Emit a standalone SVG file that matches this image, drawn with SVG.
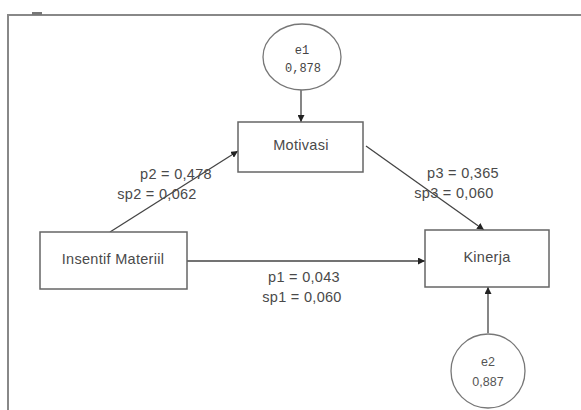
<svg xmlns="http://www.w3.org/2000/svg" width="581" height="410" viewBox="0 0 581 410">
<defs>
<style>
.box{fill:#fff;stroke:#666;stroke-width:1.5}
.ell{fill:#fff;stroke:#777;stroke-width:1.3}
.lbl{font-family:"Liberation Sans",Arial,sans-serif;font-size:14.5px;fill:#4a4a4a;text-anchor:middle;letter-spacing:0.3px}
.mono{font-family:"Liberation Mono","Courier New",monospace;font-size:12px;fill:#444;text-anchor:middle}
.small{font-family:"Liberation Sans",Arial,sans-serif;font-size:12.5px;fill:#555;text-anchor:middle}
.edge{stroke:#444;stroke-width:1.3;fill:none;marker-end:url(#ah)}
.frame{stroke:#888;stroke-width:2;fill:none}
</style>
<marker id="ah" viewBox="0 0 10 10" refX="10" refY="5" markerWidth="7" markerHeight="7" markerUnits="userSpaceOnUse" orient="auto">
<path d="M0,0 L10,5 L0,10 z" fill="#222"/>
</marker>
</defs>
<rect width="581" height="410" fill="#fff"/>
<g id="frame">
<path class="frame" d="M581,15 L8,15 L8,410"/>
<rect x="32" y="12" width="10" height="3" fill="#777"/>
</g>
<g id="connectors">
<line class="edge" x1="301" y1="90" x2="301" y2="122"/>
<line class="edge" x1="110" y1="232" x2="238" y2="151"/>
<line class="edge" x1="366" y1="146" x2="484" y2="230"/>
<line class="edge" x1="187" y1="261" x2="425" y2="261"/>
<line class="edge" x1="488" y1="333" x2="488" y2="287"/>
<text class="lbl" x="176" y="179">p2 = 0,478</text>
<text class="lbl" x="157" y="199">sp2 = 0,062</text>
<text class="lbl" x="463" y="178">p3 = 0,365</text>
<text class="lbl" x="454" y="198">sp3 = 0,060</text>
<text class="lbl" x="304" y="282">p1 = 0,043</text>
<text class="lbl" x="302" y="302">sp1 = 0,060</text>
</g>
<g id="e1">
<ellipse class="ell" cx="302" cy="57" rx="39" ry="33"/>
<text class="mono" x="302" y="54">e1</text>
<text class="mono" x="303" y="72">0,878</text>
</g>
<g id="motivasi">
<rect class="box" x="238" y="122" width="125" height="50"/>
<text class="lbl" x="301" y="150">Motivasi</text>
</g>
<g id="insentif">
<rect class="box" x="40" y="232" width="147" height="57"/>
<text class="lbl" x="113" y="264">Insentif Materiil</text>
</g>
<g id="kinerja">
<rect class="box" x="425" y="230" width="124" height="57"/>
<text class="lbl" x="487" y="262">Kinerja</text>
</g>
<g id="e2">
<ellipse class="ell" cx="488" cy="371" rx="37" ry="37"/>
<text class="small" x="488" y="366">e2</text>
<text class="small" x="488" y="386">0,887</text>
</g>
</svg>
